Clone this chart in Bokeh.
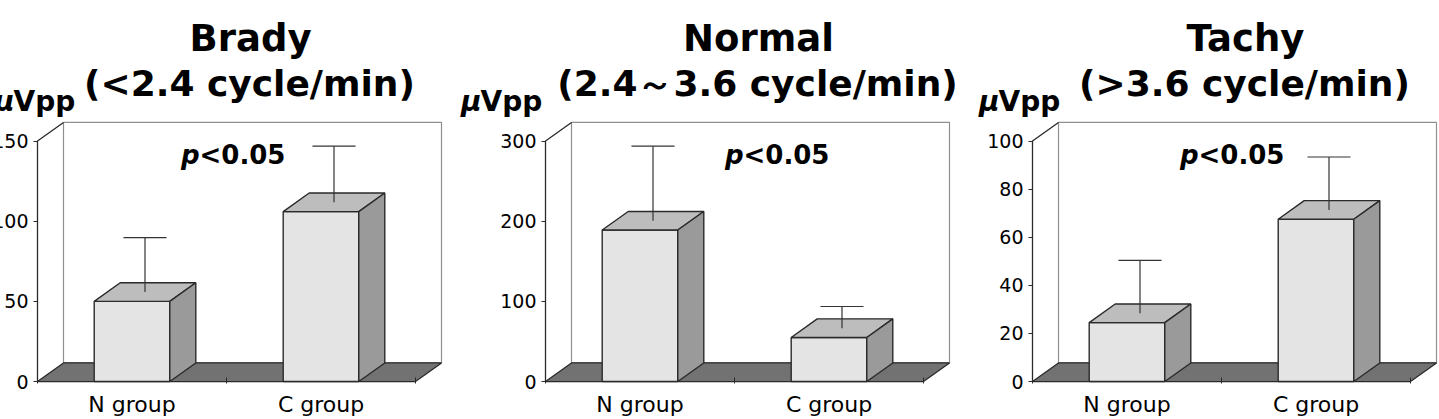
from bokeh.plotting import figure
from bokeh.layouts import row, column
from bokeh.models import Range1d, FixedTicker, Label, ColumnDataSource
from bokeh.embed import file_html
from bokeh.resources import INLINE

# ---- data -------------------------------------------------------------
categories = ["N group", "C group"]

brady_mean = [50, 106]
brady_sd = [34, 35]
normal_mean = [189, 55]
normal_sd = [93, 27]
tachy_mean = [24.5, 67.5]
tachy_sd = [22, 22]

brady_ticks = [0, 50, 100, 150]
normal_ticks = [0, 100, 200, 300]
tachy_ticks = [0, 20, 40, 60, 80, 100]

titles = ["Brady", "Normal", "Tachy"]
subtitles = ["(<2.4 cycle/min)", "(2.4\uff5e3.6 cycle/min)", "(>3.6 cycle/min)"]
unit_text = "Vpp"
p_text = "<0.05"

# ---- geometry of the pseudo-3D box (screen pixels) ---------------------
UNIT_PX = 189      # pixels between neighbouring categories
AXIS_PX = 246      # pixels of the front value axis
DEPTH_X = 26       # depth offset to the back plane
DEPTH_Y = 19
PAD = 2
BAR_W = 0.4
CAP_HALF = 0.114
SHIFT = 13         # page is scrolled this far to the left
HEAD_H = 120       # height of the heading strip
CHART_H = 299
LIFT = 0.3         # baseline correction, as a fraction of the font size

FONT = "DejaVu Sans"
FRONT = "#e4e4e4"
TOP = "#bdbdbd"
SIDE = "#9a9a9a"
FLOOR = "#727272"
EDGE = "#2a2a2a"
WALL_EDGE = "#8f8f8f"

TITLE_PX = 37
SUB_PX = 36
UNIT_FONT_PX = 28
P_PX = 26

panels = [
    dict(mean=brady_mean, sd=brady_sd, ticks=brady_ticks, title=titles[0],
         subtitle=subtitles[0], width=468, left=48, right=12,
         p_at=162, unit_at=-24),
    dict(mean=normal_mean, sd=normal_sd, ticks=normal_ticks, title=titles[1],
         subtitle=subtitles[1], width=515, left=88, right=19,
         p_at=198, unit_at=-65),
    dict(mean=tachy_mean, sd=tachy_sd, ticks=tachy_ticks, title=titles[2],
         subtitle=subtitles[2], width=469, left=60, right=1,
         p_at=166, unit_at=-34),
]


def make_panel(cfg):
    ymax = cfg["ticks"][-1]
    ux = 1.0 / UNIT_PX
    uy = ymax / AXIS_PX
    dx = DEPTH_X * ux
    dy = DEPTH_Y * uy

    p = figure(width=cfg["width"], height=CHART_H,
               x_range=Range1d(0.5 - PAD * ux, 2.5 + dx + PAD * ux),
               y_range=Range1d(-PAD * uy, ymax + dy + PAD * uy),
               min_border_left=cfg["left"], min_border_right=cfg["right"],
               min_border_top=0, min_border_bottom=30,
               output_backend="svg", toolbar_location=None, tools="")
    p.outline_line_color = None
    p.grid.visible = False
    p.background_fill_color = "white"

    # axes
    xa = p.xaxis[0]
    xa.ticker = FixedTicker(ticks=[1, 2], minor_ticks=[0.5, 1.5, 2.5])
    xa.major_label_overrides = {1: categories[0], 2: categories[1]}
    xa.axis_line_color = None
    xa.major_tick_line_color = None
    xa.minor_tick_in = 6
    xa.minor_tick_out = 0
    xa.minor_tick_line_color = EDGE
    xa.major_label_standoff = 2
    xa.major_label_text_font = FONT
    xa.major_label_text_font_size = "22px"
    xa.major_label_text_color = "black"

    ya = p.yaxis[0]
    ya.ticker = FixedTicker(ticks=cfg["ticks"])
    ya.axis_line_color = None
    ya.major_tick_in = 2
    ya.major_tick_out = 2
    ya.major_tick_line_color = EDGE
    ya.minor_tick_line_color = None
    ya.major_label_standoff = 5
    ya.major_label_text_font = FONT
    ya.major_label_text_font_size = "19px"
    ya.major_label_text_color = "black"

    # back wall, left wall edges and floor
    p.quad(left=0.5 + dx, right=2.5 + dx, bottom=dy, top=ymax + dy,
           fill_color="white", line_color=WALL_EDGE, line_width=1.2)
    p.line([0.5, 0.5, 0.5 + dx], [0, ymax, ymax + dy],
           line_color=EDGE, line_width=1.3)
    p.patch([0.5, 2.5, 2.5 + dx, 0.5 + dx], [0, 0, dy, dy],
            fill_color=FLOOR, line_color=EDGE, line_width=1.3)

    # bars
    xs = [i + 1 for i in range(len(categories))]
    means = cfg["mean"]
    sds = cfg["sd"]
    lefts = [x - BAR_W / 2 for x in xs]
    rights = [x + BAR_W / 2 for x in xs]
    src = ColumnDataSource(dict(
        left=lefts, right=rights, top=means,
        top_xs=[[l, r, r + dx, l + dx] for l, r in zip(lefts, rights)],
        top_ys=[[m, m, m + dy, m + dy] for m in means],
        side_xs=[[r, r + dx, r + dx, r] for r in rights],
        side_ys=[[0, dy, m + dy, m] for m in means],
        ex=[x + dx / 2 for x in xs],
        e0=[m + dy / 2 for m in means],
        e1=[m + s + dy / 2 for m, s in zip(means, sds)],
        c0=[x + dx / 2 - CAP_HALF for x in xs],
        c1=[x + dx / 2 + CAP_HALF for x in xs],
    ))
    p.quad(left="left", right="right", bottom=0, top="top", source=src,
           fill_color=FRONT, line_color=EDGE, line_width=1.4)
    p.patches(xs="top_xs", ys="top_ys", source=src,
              fill_color=TOP, line_color=EDGE, line_width=1.4)
    p.patches(xs="side_xs", ys="side_ys", source=src,
              fill_color=SIDE, line_color=EDGE, line_width=1.4)

    # error bars (SD)
    p.segment(x0="ex", y0="e0", x1="ex", y1="e1", source=src,
              line_color="#333333", line_width=1.2)
    p.segment(x0="c0", y0="e1", x1="c1", y1="e1", source=src,
              line_color="#333333", line_width=1.2)

    # significance note
    px = 0.5 + cfg["p_at"] * ux
    py = (224 + LIFT * P_PX) * uy
    p.add_layout(Label(x=px, y=py, text="p",
                       text_font=FONT, text_font_size="%dpx" % P_PX,
                       text_font_style="bold italic", text_align="right",
                       text_baseline="alphabetic", text_color="black"))
    p.add_layout(Label(x=px, y=py, text=p_text,
                       text_font=FONT, text_font_size="%dpx" % P_PX,
                       text_font_style="bold", text_align="left",
                       text_baseline="alphabetic", text_color="black"))
    return p


# ---- heading strip above the three charts (x, y in page pixels) -------
total_w = sum(c["width"] for c in panels)
head = figure(width=total_w, height=HEAD_H,
              x_range=Range1d(-SHIFT, total_w - SHIFT),
              y_range=Range1d(HEAD_H, 0),
              x_axis_location=None, y_axis_location=None,
              min_border=0, output_backend="svg", toolbar_location=None,
              tools="")
head.outline_line_color = None
head.grid.visible = False


def head_label(x, y, text, size, style, align):
    head.add_layout(Label(x=x, y=y - LIFT * size, text=text,
                          text_font=FONT, text_font_size="%dpx" % size,
                          text_font_style=style, text_align=align,
                          text_baseline="alphabetic", text_color="black"))


offset = -SHIFT
for cfg in panels:
    axis_x = offset + cfg["left"] + PAD
    head_label(axis_x + 213, 49, cfg["title"], TITLE_PX, "bold", "center")
    head_label(axis_x + 212, 94, cfg["subtitle"], SUB_PX, "bold", "center")
    ux0 = axis_x + cfg["unit_at"]
    head_label(ux0, 109, unit_text, UNIT_FONT_PX, "bold", "left")
    head_label(ux0 + 1, 109, "\u03bc", UNIT_FONT_PX, "bold italic", "right")
    offset += cfg["width"]

charts = row(*[make_panel(c) for c in panels])
layout = column(head, charts, styles={"margin-left": "-%dpx" % SHIFT})

with open("out.html", "w") as f:
    f.write(file_html(layout, INLINE))
